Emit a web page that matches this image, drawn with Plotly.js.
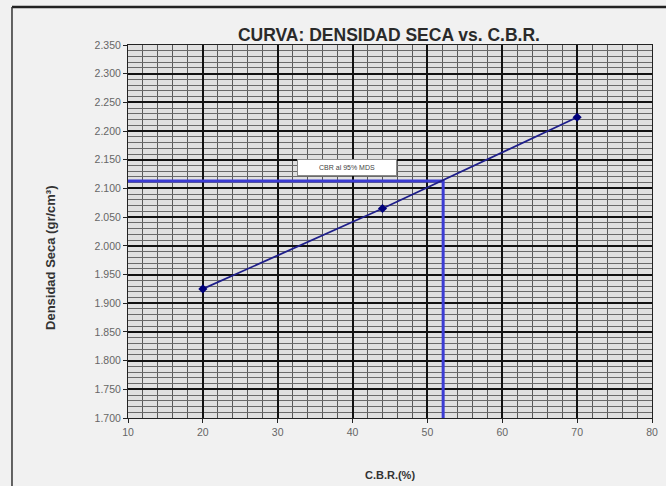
<!DOCTYPE html>
<html>
<head>
<meta charset="utf-8">
<script src="https://cdn.plot.ly/plotly-3.0.1.min.js"></script>
<style>
  html, body { margin: 0; padding: 0; background: #f1f1f1; }
  #chart { width: 666px; height: 486px; }
</style>
</head>
<body>
<div id="chart"></div>
<script>
// Measured points: C.B.R. (%) vs dry density (gr/cm3)
const cbrValues = [20, 44, 70];
const densityValues = [1.925, 2.065, 2.224];

// Design reading: CBR at 95% MDS
const designCbr = [10, 52.1, 52.1];
const designDensity = [2.113, 2.113, 1.700];
const designLabel = "CBR al 95% MDS";

const xTicks = [10, 20, 30, 40, 50, 60, 70, 80];
const yTicks = [1.70, 1.75, 1.80, 1.85, 1.90, 1.95, 2.00, 2.05, 2.10, 2.15, 2.20, 2.25, 2.30, 2.35];

const traces = [
  {
    x: designCbr, y: designDensity,
    mode: 'lines', type: 'scatter',
    line: { color: '#3c3cd4', width: 3 },
    hoverinfo: 'skip', showlegend: false
  },
  {
    x: cbrValues, y: densityValues,
    mode: 'lines+markers', type: 'scatter',
    line: { color: '#1e1e8a', width: 1.8 },
    marker: { color: '#00007a', size: 7, symbol: 'diamond' },
    showlegend: false
  }
];

const FONT = 'Liberation Sans, Arial, sans-serif';
const axisFont = { family: FONT, size: 10.5, color: '#666' };

const layout = {
  width: 666, height: 486,
  paper_bgcolor: '#f1f1f1',
  plot_bgcolor: '#e0e0e0',
  margin: { l: 128, r: 14, t: 45, b: 68 },
  title: {
    text: '<b>CURVA: DENSIDAD SECA vs. C.B.R.</b>',
    font: { family: FONT, size: 17.5, color: '#2a2a2a' },
    x: 0.584, xanchor: 'center', xref: 'container',
    y: 1 - 35 / 486, yanchor: 'middle', yref: 'container'
  },
  xaxis: {
    range: [10, 80], tickvals: xTicks, ticktext: xTicks.map(String),
    showgrid: true, gridcolor: '#111111', gridwidth: 2,
    minor: { dtick: 2, showgrid: true, gridcolor: '#595959', gridwidth: 1 },
    ticks: 'outside', ticklen: 4, tickcolor: '#222',
    showline: true, linecolor: '#222', linewidth: 1, mirror: true,
    zeroline: false, tickfont: axisFont,
    title: { text: '<b>C.B.R.(%)</b>', font: { family: FONT, size: 11, color: '#333' }, standoff: 34 }
  },
  yaxis: {
    range: [1.70, 2.35], tickvals: yTicks, ticktext: yTicks.map(v => v.toFixed(3)),
    showgrid: true, gridcolor: '#111111', gridwidth: 2,
    minor: { dtick: 0.01, showgrid: true, gridcolor: '#6a6a6a', gridwidth: 1 },
    ticks: 'outside', ticklen: 4, tickcolor: '#222',
    showline: true, linecolor: '#222', linewidth: 1, mirror: true,
    zeroline: false, tickfont: axisFont
  },
  annotations: [
    {
      x: 39.3, y: 2.137, xref: 'x', yref: 'y',
      text: designLabel, showarrow: false,
      font: { family: FONT, size: 7, color: '#444' },
      bgcolor: '#ffffff', bordercolor: '#8a8a8a', borderwidth: 1,
      width: 96, height: 13
    },
    {
      x: -0.1489, y: 0.4316, xref: 'paper', yref: 'paper',
      xanchor: 'center', yanchor: 'middle',
      text: '<b>Densidad Seca (gr/cm³)</b>', textangle: -90, showarrow: false,
      font: { family: FONT, size: 13, color: '#333' }
    }
  ],
  shapes: [
    { type: 'line', xref: 'paper', yref: 'paper', x0: -0.2214, x1: 1.03, y0: 1.1019, y1: 1.1019,
      line: { color: '#222', width: 2.5 } },
    { type: 'line', xref: 'paper', yref: 'paper', x0: -0.2214, x1: -0.2214, y0: 1.1019, y1: -0.2,
      line: { color: '#333', width: 1.5 } }
  ]
};

Plotly.newPlot('chart', traces, layout, { displayModeBar: false, staticPlot: true });
</script>
</body>
</html>
